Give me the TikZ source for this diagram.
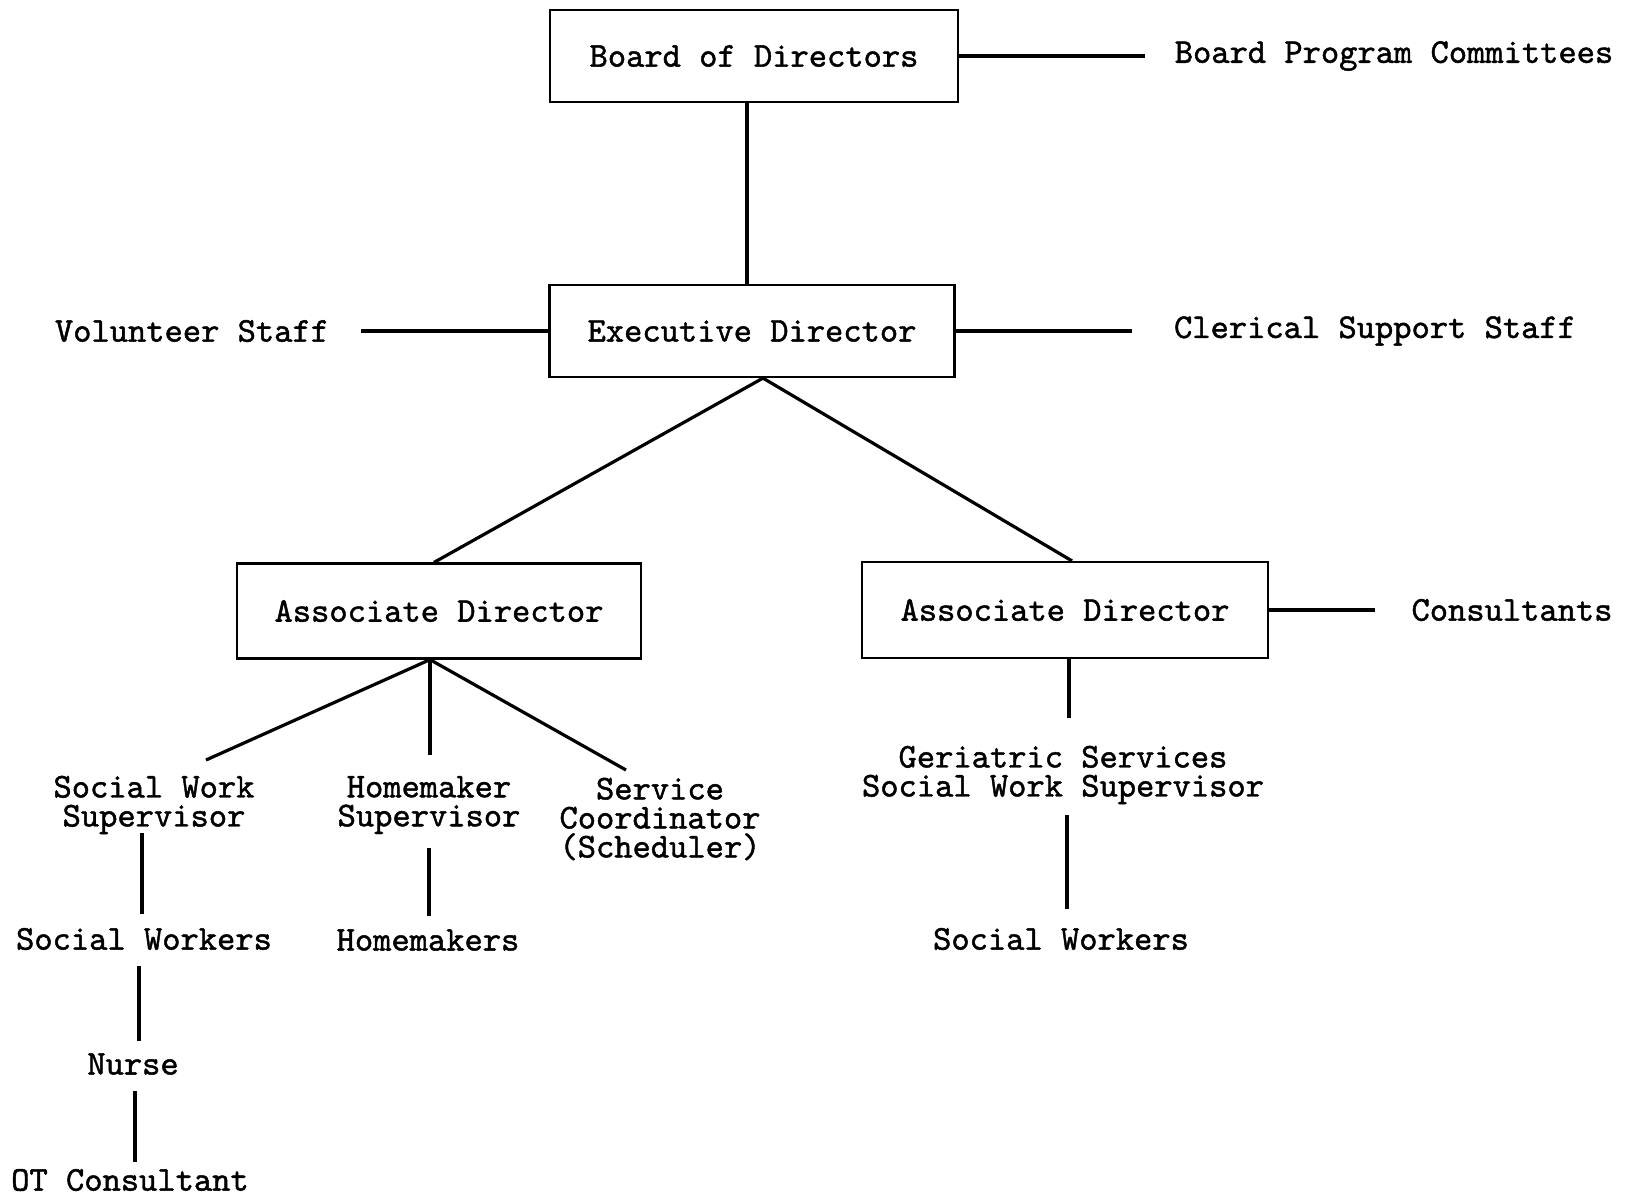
\documentclass[tikz,border=0pt]{standalone}
\usepackage{fontspec}
\newfontfamily\cour[FakeBold=1.3]{lmmono10-regular.otf}
\begin{document}
\begin{tikzpicture}[x=0.5pt,y=-0.5pt,
  every node/.style={font=\cour\fontsize{17.4}{14.5}\selectfont},
  boxnode/.style={draw,line width=1.1pt,minimum width=#1,minimum height=46pt,inner sep=0pt},
  lbl/.style={inner sep=0pt,align=center},
  conn/.style={line width=1.6pt}]
\useasboundingbox (0,0) rectangle (1632,1196);
% boxes
\node[boxnode=204pt] (board) at (754,56) {Board of Directors};
\node[boxnode=202.5pt] (exec) at (752,331) {Executive Director};
\node[boxnode=202pt,minimum height=47.5pt] (aL) at (439,611) {Associate Director};
\node[boxnode=203pt,minimum height=48pt] (aR) at (1065,610) {Associate Director};
% labels
\node[lbl] (bpc) at (1394,56) {Board Program Committees};
\node[lbl] (vol) at (192,331) {Volunteer Staff};
\node[lbl] (cler) at (1375,331) {Clerical Support Staff};
\node[lbl] (cons) at (1512,610) {Consultants};
\node[lbl] (sws) at (154,805) {Social Work\\Supervisor};
\node[lbl] (hms) at (429,805) {Homemaker\\Supervisor};
\node[lbl] (sc) at (660,819) {Service\\Coordinator\\(Scheduler)};
\node[lbl] (gss) at (1063,775) {Geriatric Services\\Social Work Supervisor};
\node[lbl] (sw1) at (144,939) {Social Workers};
\node[lbl] (hm) at (428,940) {Homemakers};
\node[lbl] (nurse) at (133,1064) {Nurse};
\node[lbl] (ot) at (130,1180) {OT Consultant};
\node[lbl] (sw2) at (1061,939) {Social Workers};
% connectors
\draw[conn] ([xshift=-3.5pt]board.south) -- ([xshift=-2.5pt]exec.north);
\draw[conn] (board.east) -- ([xshift=-14.5pt]bpc.west);
\draw[conn] (exec.west) -- ([xshift=16pt]vol.east);
\draw[conn] (exec.east) -- ([xshift=-21pt]cler.west);
\draw[conn] (aR.east) -- ([xshift=-18pt]cons.west);
\draw[conn] ([xshift=5.5pt]exec.south) -- ([xshift=-2.5pt]aL.north);
\draw[conn] ([xshift=5.5pt]exec.south) -- ([xshift=3.5pt]aR.north);
\draw[conn] ([xshift=-4.5pt]aL.south) -- ([xshift=26pt,yshift=22.5pt]sws.center);
\draw[conn] ([xshift=-4.5pt]aL.south) -- ([xshift=0.5pt,yshift=25pt]hms.center);
\draw[conn] ([xshift=-4.5pt]aL.south) -- ([xshift=-17pt,yshift=24.5pt]sc.center);
\draw[conn] ([xshift=-6pt,yshift=-14pt]sws.center) -- ([xshift=-1pt,yshift=12.5pt]sw1.center);
\draw[conn] ([xshift=-2.5pt,yshift=-13.5pt]sw1.center) -- ([xshift=3pt,yshift=11.5pt]nurse.center);
\draw[conn] ([xshift=1pt,yshift=-13.5pt]nurse.center) -- ([xshift=2.5pt,yshift=9pt]ot.center);
\draw[conn] ([yshift=-21.5pt]hms.center) -- ([xshift=0.5pt,yshift=12pt]hm.center);
\draw[conn] ([xshift=2pt]aR.south) -- ([xshift=3pt,yshift=28.5pt]gss.center);
\draw[conn] ([xshift=2pt,yshift=-20pt]gss.center) -- ([xshift=3pt,yshift=15pt]sw2.center);
\end{tikzpicture}
\end{document}
